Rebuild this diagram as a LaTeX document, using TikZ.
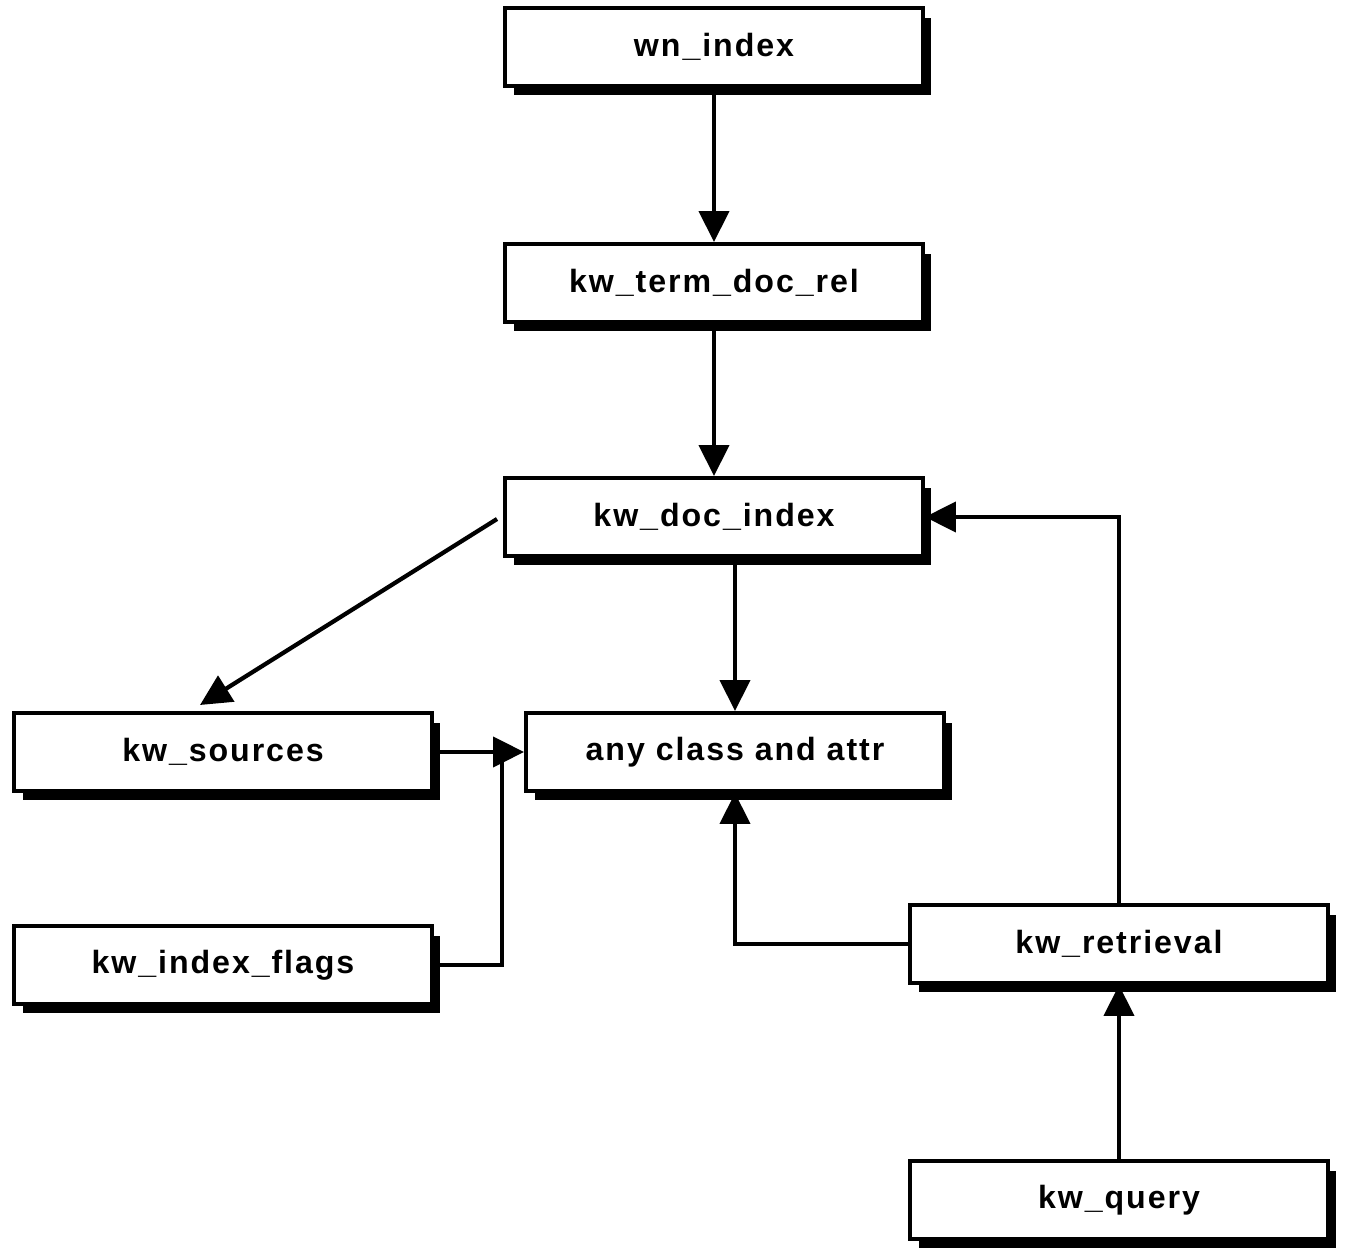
\documentclass[tikz,border=0pt]{standalone}
\usepackage{fontspec}
\setmainfont{Liberation Sans}[LetterSpace=6]
\usetikzlibrary{arrows.meta,calc,shadows}

\tikzset{
  tbl/.style={draw, line width=0.08cm, fill=white, minimum width=8.36cm,
    minimum height=1.56cm, font=\fontsize{18.3}{21}\selectfont\bfseries,
    drop shadow={shadow xshift=0.17cm, shadow yshift=-0.19cm, fill=black, opacity=1}},
  link/.style={line width=0.085cm, -{Triangle[length=0.62cm, width=0.6cm]}}
}

\begin{document}
\begin{tikzpicture}[x=0.02cm, y=-0.02cm]
		%%%%% START %%%%%
		\useasboundingbox (0, 0) rectangle (1347, 1253);
		
		\node[tbl] (wn) at (714, 47) {wn\_index};
		\node[tbl] (term) at (714, 283) {kw\_term\_doc\_rel};
		\node[tbl] (docidx) at (714, 517) {kw\_doc\_index};
		
		\node[tbl] (src) at (223, 752) {kw\_sources};
		\node[tbl] (any) at (735, 752) {any class and attr};
		\node[tbl] (flags) at (223, 965) {kw\_index\_flags};
		
		\node[tbl] (retr) at (1119, 944) {kw\_retrieval};
		\node[tbl] (query) at (1119, 1200) {kw\_query};
		
		\draw[link] (wn.south) -- (term.north);
		\draw[link] (term.south) -- (docidx.north);
		\draw[link] ($(docidx.west)+(-6, 2)$) -- ($(src.north)+(-23, -6)$);
		\draw[link] (any.north |- docidx.south) -- (any.north);
		
		\draw[link] (src.east) -- (any.west);
		\draw[line width=0.085cm] (flags.east) -| ($(any.west)+(-22, 8)$);
		
		\draw[link] (retr.west) -| (any.south);
		\draw[link] (retr.north) |- (docidx.east);
		\draw[link] (query.north) -- (retr.south);
		
		%%%%% END %%%%%
\end{tikzpicture}
\end{document}
